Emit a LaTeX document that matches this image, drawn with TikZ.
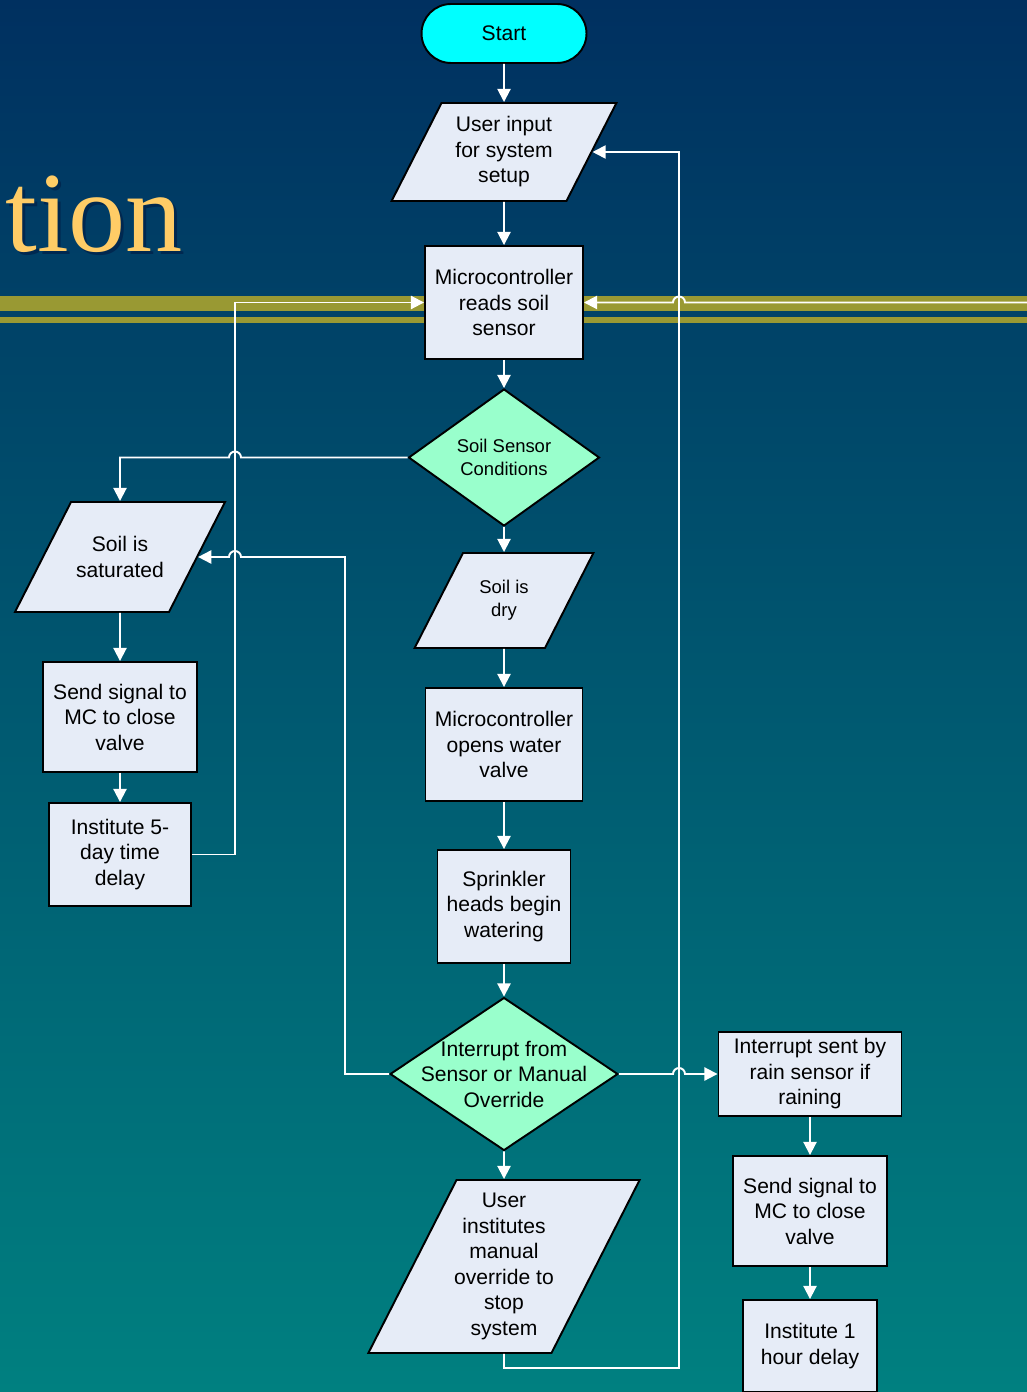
\documentclass[tikz,border=0pt]{standalone}
\usepackage{fontspec}
\setmainfont{Liberation Sans}
\newfontfamily\titlefont{Liberation Serif}
\usetikzlibrary{positioning, arrows.meta, shapes.geometric}

\definecolor{boxfill}{RGB}{230,236,247}
\definecolor{decfill}{RGB}{153,255,204}
\definecolor{startfill}{RGB}{0,255,255}
\definecolor{bandgold}{RGB}{153,153,51}
\definecolor{titlegold}{RGB}{255,204,102}
\definecolor{titleshade}{RGB}{0,40,80}
\definecolor{bgtop}{RGB}{0,48,96}
\definecolor{bgbottom}{RGB}{0,128,128}

% empty body of a given width and height for the slanted boxes
\newcommand{\iobody}[2]{\rule{0pt}{#2}\hspace*{#1}}

\begin{document}
\begin{tikzpicture}[x=0.02cm, y=0.02cm, >={Triangle[width=7.5pt,length=7.5pt]},
    every node/.style={font=\fontsize{12}{14.5}\selectfont, align=center, text=black},
    process/.style={rectangle, draw, line width=1.1pt, fill=boxfill, inner sep=1pt},
    io/.style={trapezium, trapezium left angle=63, trapezium right angle=117, draw, line width=1.1pt, fill=boxfill, inner sep=0pt},
    decision/.style={diamond, draw, line width=1.1pt, fill=decfill, inner sep=1pt},
    terminal/.style={rectangle, rounded corners=0.59cm, draw, line width=1.1pt, fill=startfill},
    smalltext/.style={font=\fontsize{10.5}{13}\selectfont},
    flow/.style={->, white, line width=1.1pt}]
    % Background
    \useasboundingbox (0,0) rectangle (1027,-1392);
    \clip (0,0) rectangle (1027,-1392);
    \fill[top color=bgtop, bottom color=bgbottom] (0,0) rectangle (1027,-1392);
    \fill[bandgold] (0,-296) rectangle (1027,-311);
    \fill[bandgold] (0,-317) rectangle (1027,-323);
    \node (titleshadow) [font=\titlefont\fontsize{65}{65}\selectfont, text=titleshade, anchor=base west, inner sep=0pt] at (8,-255) {tion};
    \node (title) [font=\titlefont\fontsize{65}{65}\selectfont, text=titlegold, anchor=base west, inner sep=0pt] at (5,-252) {tion};

    % Nodes
    \node (start) [terminal, minimum width=3.3cm, minimum height=1.18cm] at (504,-33.5) {Start};
    \node (ui) [io, label=center:{User input\\for system\\setup}] at (504,-152) {\iobody{2.5cm}{1.96cm}};
    \node (reads) [process, minimum width=3.16cm, minimum height=2.26cm] at (504,-302.5) {Microcontroller\\reads soil\\sensor};
    \node (sensor) [decision, minimum width=3.82cm, minimum height=2.74cm, label={[smalltext]center:Soil Sensor\\Conditions}] at (504,-457.5) {};
    \node (dry) [io, label={[smalltext]center:Soil is\\dry}] at (504,-600.5) {\iobody{1.64cm}{1.9cm}};
    \node (opens) [process, minimum width=3.14cm, minimum height=2.26cm] at (504,-744.5) {Microcontroller\\opens water\\valve};
    \node (sprinkler) [process, minimum width=2.66cm, minimum height=2.26cm] at (504,-906.5) {Sprinkler\\heads begin\\watering};
    \node (intr) [decision, minimum width=4.56cm, minimum height=3.06cm, label=center:{Interrupt from\\Sensor or Manual\\Override}] at (504,-1074) {};
    \node (manual) [io, label=center:{User\\institutes\\manual\\override to\\stop\\system}] at (504,-1266.5) {\iobody{1.9cm}{3.46cm}};

    \node (sat) [io, label=center:{Soil is\\saturated}] at (120,-557) {\iobody{1.96cm}{2.2cm}};
    \node (satsig) [process, minimum width=3.08cm, minimum height=2.2cm] at (120,-717) {Send signal to\\MC to close\\valve};
    \node (delay5) [process, minimum width=2.84cm, minimum height=2.06cm] at (120,-854.5) {Institute 5-\\day time\\delay};

    \node (rain) [process, minimum width=3.66cm, minimum height=1.68cm] at (810,-1074) {Interrupt sent by\\rain sensor if\\raining};
    \node (rainsig) [process, minimum width=3.08cm, minimum height=2.2cm] at (810,-1211) {Send signal to\\MC to close\\valve};
    \node (delay1) [process, minimum width=2.68cm, minimum height=1.84cm] at (810,-1346) {Institute 1\\hour delay};

    % Bend points
    \coordinate (lx) at (235,0);
    \coordinate (mx) at (345,0);
    \coordinate (rx) at (679,0);
    \coordinate (redge) at (1027,0);
    \coordinate (bot) at (0,-1368);

    % Arrows
    \draw[flow] (start) -- (ui);
    \draw[flow] (ui) -- (reads);
    \draw[flow] (reads) -- (sensor);
    \draw[flow] (sensor) -- (dry);
    \draw[flow] (dry) -- (opens);
    \draw[flow] (opens) -- (sprinkler);
    \draw[flow] (sprinkler) -- (intr);
    \draw[flow] (intr) -- (manual);
    \draw[flow] (sat) -- (satsig);
    \draw[flow] (satsig) -- (delay5);
    \draw[flow] (rain) -- (rainsig);
    \draw[flow] (rainsig) -- (delay1);

    \draw[flow] (sensor.west) -- ([xshift=0.12cm]lx |- sensor.west) arc[start angle=0, end angle=180, radius=0.12cm] -| (sat);
    \draw[flow] (delay5.east) -| (lx |- reads) -- (reads);
    \draw[flow] (intr.west) -| (mx |- sat) -- ([xshift=0.12cm]lx |- sat) arc[start angle=0, end angle=180, radius=0.12cm] -- (sat);
    \draw[flow] (intr.east) -- ([xshift=-0.12cm]rx |- intr) arc[start angle=180, end angle=0, radius=0.12cm] -- (rain);
    \draw[flow] (manual) -- (manual |- bot) -| (rx |- ui) -- (ui);
    \draw[flow] (reads -| redge) -- ([xshift=0.12cm]rx |- reads) arc[start angle=0, end angle=180, radius=0.12cm] -- (reads);
\end{tikzpicture}
\end{document}
